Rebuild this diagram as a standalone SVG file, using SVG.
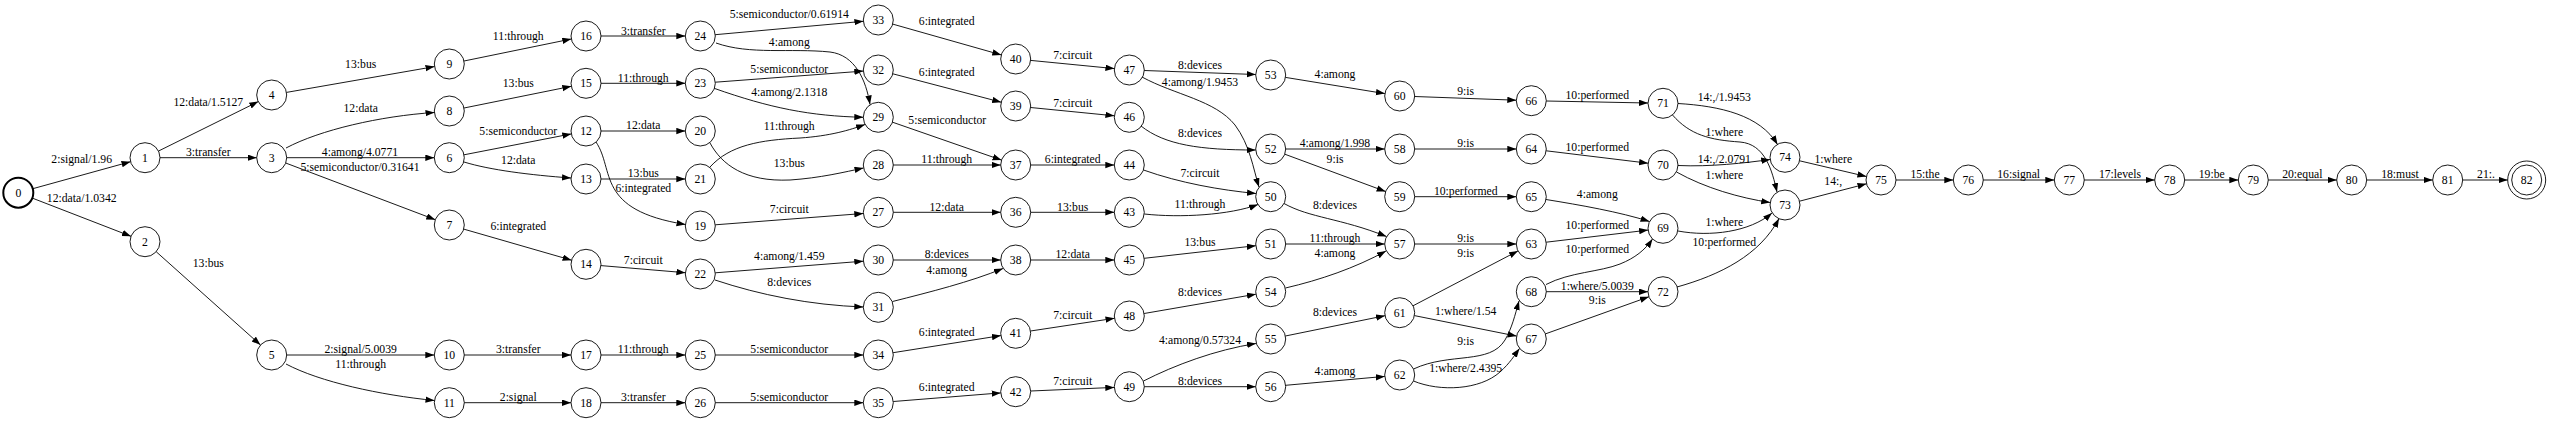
<svg xmlns="http://www.w3.org/2000/svg" width="2550" height="422" viewBox="0 0 2550 422">
<style>
text{font-family:"Liberation Serif","Times New Roman",serif;font-size:11.7px;text-anchor:middle;fill:#000}
.n circle{fill:none;stroke:#000;stroke-width:0.9}
.e path{fill:none;stroke:#000;stroke-width:0.9;marker-end:url(#a)}
</style>
<defs>
<marker id="a" markerWidth="10" markerHeight="8" refX="9" refY="3.2" orient="auto" markerUnits="userSpaceOnUse"><path d="M0,0L9,3.2L0,6.4z" fill="#000"/></marker>
</defs>
<rect width="2550" height="422" fill="#fff"/>
<g id="connectors">
<g class="e"><path d="M32.8,188.7L130.5,161.7"/><text x="81.7" y="163.3">2:signal/1.96</text></g>
<g class="e"><path d="M32.3,198.1L131,236.3"/><text x="81.7" y="202.3">12:data/1.0342</text></g>
<g class="e"><path d="M158.4,151.1L258.3,101.6"/><text x="208.3" y="105.7">12:data/1.5127</text></g>
<g class="e"><path d="M160,157.7L256.7,157.7"/><text x="208.3" y="156.3">3:transfer</text></g>
<g class="e"><path d="M156.2,251.7L260.5,345"/><text x="208.3" y="267.3">13:bus</text></g>
<g class="e"><path d="M286.5,92.4L434.5,66.6"/><text x="360.7" y="68">13:bus</text></g>
<g class="e"><path d="M286,148C320,130 380,116 434.5,112.5"/><text x="360.7" y="112.3">12:data</text></g>
<g class="e"><path d="M286.7,157.7L434.3,157.7"/><text x="360" y="156.3">4:among/4.0771</text></g>
<g class="e"><path d="M285.7,163L435.3,219.7"/><text x="360" y="171.3">5:semiconductor/0.31641</text></g>
<g class="e"><path d="M286.7,355L434.3,355"/><text x="360.7" y="353">2:signal/5.0039</text></g>
<g class="e"><path d="M286,364C320,382 380,395 434.5,400.5"/><text x="360.7" y="368">11:through</text></g>
<g class="e"><path d="M464,61L571.3,39"/><text x="518.3" y="40">11:through</text></g>
<g class="e"><path d="M464,108L571.3,86.3"/><text x="518.3" y="87.3">13:bus</text></g>
<g class="e"><path d="M464,154.8L571.3,133.9"/><text x="518.3" y="135">5:semiconductor</text></g>
<g class="e"><path d="M464,162C490,170 530,175 571,178"/><text x="518.3" y="164">12:data</text></g>
<g class="e"><path d="M463.7,229.1L571.6,260.2"/><text x="518.3" y="230">6:integrated</text></g>
<g class="e"><path d="M464.3,355L571,355"/><text x="518.3" y="353">3:transfer</text></g>
<g class="e"><path d="M464.3,402.7L571,402.7"/><text x="518.3" y="400.7">2:signal</text></g>
<g class="e"><path d="M601,36L685.3,36"/><text x="643.3" y="35">3:transfer</text></g>
<g class="e"><path d="M601,83.3L685.3,83.3"/><text x="643.3" y="82.3">11:through</text></g>
<g class="e"><path d="M601,131L685.3,131"/><text x="643.3" y="129">12:data</text></g>
<g class="e"><path d="M601,179L685.3,179"/><text x="643.3" y="176.7">13:bus</text></g>
<g class="e"><path d="M596,142C615,170 595,210 685.5,224.5"/><text x="643.3" y="192.3">6:integrated</text></g>
<g class="e"><path d="M601,265.6L685.4,272.7"/><text x="643.3" y="264">7:circuit</text></g>
<g class="e"><path d="M601,355L685.3,355"/><text x="643.3" y="353">11:through</text></g>
<g class="e"><path d="M601,402.7L685.3,402.7"/><text x="643.3" y="400.7">3:transfer</text></g>
<g class="e"><path d="M715.2,34.7L863.4,21.3"/><text x="789.3" y="18">5:semiconductor/0.61914</text></g>
<g class="e"><path d="M716,43C750,55 790,48 830,52C855,55 866,80 870,104.5"/><text x="789.3" y="45.7">4:among</text></g>
<g class="e"><path d="M715.3,82.2L863.3,71.1"/><text x="789.3" y="73.3">5:semiconductor</text></g>
<g class="e"><path d="M714.4,88.4C770,108 810,116 863.3,117.3"/><text x="789.3" y="95.7">4:among/2.1318</text></g>
<g class="e"><path d="M710,167C730,145 760,140 800,138C830,136 850,130 865,124.5"/><text x="789.3" y="129.7">11:through</text></g>
<g class="e"><path d="M710,143C722,165 745,182 790,180C820,178 845,172 863.5,168"/><text x="789.3" y="167.3">13:bus</text></g>
<g class="e"><path d="M715.3,224.8L863.3,213.5"/><text x="789.3" y="213.3">7:circuit</text></g>
<g class="e"><path d="M715.3,272.8L863.3,261.2"/><text x="789.3" y="260">4:among/1.459</text></g>
<g class="e"><path d="M715,280C760,295 810,305 863.3,307"/><text x="789.3" y="285.7">8:devices</text></g>
<g class="e"><path d="M715.3,355L863.3,355"/><text x="789.3" y="353">5:semiconductor</text></g>
<g class="e"><path d="M715.3,402.7L863.3,402.7"/><text x="789.3" y="400.7">5:semiconductor</text></g>
<g class="e"><path d="M892.7,24.1L1001.3,54.9"/><text x="946.7" y="25">6:integrated</text></g>
<g class="e"><path d="M892.8,73.8L1001.2,102.2"/><text x="946.7" y="76">6:integrated</text></g>
<g class="e"><path d="M892.5,122.2L1001.5,160.1"/><text x="947.3" y="124">5:semiconductor</text></g>
<g class="e"><path d="M893.3,165L1000.7,165"/><text x="946.7" y="163.3">11:through</text></g>
<g class="e"><path d="M893.3,212.3L1000.7,212.3"/><text x="946.7" y="211.3">12:data</text></g>
<g class="e"><path d="M893.3,260L1000.7,260"/><text x="946.7" y="258.3">8:devices</text></g>
<g class="e"><path d="M892.5,301.5C930,292 970,282 1003,268.5"/><text x="946.7" y="274">4:among</text></g>
<g class="e"><path d="M893.1,352.7L1000.9,335.6"/><text x="946.7" y="336.3">6:integrated</text></g>
<g class="e"><path d="M893.3,401.5L1000.7,392.9"/><text x="946.7" y="391.3">6:integrated</text></g>
<g class="e"><path d="M1030.6,60.4L1114.4,68.6"/><text x="1072.7" y="59">7:circuit</text></g>
<g class="e"><path d="M1030.6,107.5L1114.4,115.8"/><text x="1072.7" y="107.3">7:circuit</text></g>
<g class="e"><path d="M1030.7,165L1114.3,165"/><text x="1072.7" y="163.3">6:integrated</text></g>
<g class="e"><path d="M1030.7,212.3L1114.3,212.3"/><text x="1072.7" y="211.3">13:bus</text></g>
<g class="e"><path d="M1030.7,260L1114.3,260"/><text x="1072.7" y="258.3">12:data</text></g>
<g class="e"><path d="M1030.5,331L1114.5,318.3"/><text x="1072.7" y="319">7:circuit</text></g>
<g class="e"><path d="M1030.7,391L1114.3,387.4"/><text x="1072.7" y="385">7:circuit</text></g>
<g class="e"><path d="M1144.3,70.5L1255.7,74.5"/><text x="1200" y="69">8:devices</text></g>
<g class="e"><path d="M1142,77C1175,95 1215,100 1235,125C1250,145 1253,168 1259,187"/><text x="1200" y="85.7">4:among/1.9453</text></g>
<g class="e"><path d="M1141,126C1165,145 1200,150 1255.7,150"/><text x="1200" y="137.3">8:devices</text></g>
<g class="e"><path d="M1143.5,170C1180,183 1220,190 1256,193.5"/><text x="1200" y="177.3">7:circuit</text></g>
<g class="e"><path d="M1144.3,214C1180,218 1230,215 1258,204.5"/><text x="1200" y="208">11:through</text></g>
<g class="e"><path d="M1144.2,258.3L1255.8,245.7"/><text x="1200" y="246.3">13:bus</text></g>
<g class="e"><path d="M1144.1,313.5L1255.9,294.2"/><text x="1200" y="295.7">8:devices</text></g>
<g class="e"><path d="M1143.5,381C1175,365 1215,350 1256,343.5"/><text x="1200" y="344">4:among/0.57324</text></g>
<g class="e"><path d="M1144.3,386.7L1255.7,386.7"/><text x="1200" y="385">8:devices</text></g>
<g class="e"><path d="M1285.5,77.4L1384.9,93.6"/><text x="1335" y="78.3">4:among</text></g>
<g class="e"><path d="M1285.7,149L1384.7,149"/><text x="1335" y="147.3">4:among/1.998</text></g>
<g class="e"><path d="M1284.8,154.2L1385.6,191.5"/><text x="1335" y="163.3">9:is</text></g>
<g class="e"><path d="M1284,203.5C1310,218 1340,218 1386.5,236.5"/><text x="1335" y="209">8:devices</text></g>
<g class="e"><path d="M1285.7,244L1384.7,244"/><text x="1335" y="242.3">11:through</text></g>
<g class="e"><path d="M1285.5,288C1320,280 1355,268 1386,251"/><text x="1335" y="257.3">4:among</text></g>
<g class="e"><path d="M1285.4,336L1385,315.7"/><text x="1335" y="316.3">8:devices</text></g>
<g class="e"><path d="M1285.6,385.3L1384.8,376.4"/><text x="1335" y="375">4:among</text></g>
<g class="e"><path d="M1414.7,96.5L1516.3,100.2"/><text x="1465.7" y="94.7">9:is</text></g>
<g class="e"><path d="M1414.7,149L1516.3,149"/><text x="1465.7" y="147.3">9:is</text></g>
<g class="e"><path d="M1414.7,196.7L1516.3,196.7"/><text x="1465.7" y="195">10:performed</text></g>
<g class="e"><path d="M1414.7,244L1516.3,244"/><text x="1465.7" y="242.3">9:is</text></g>
<g class="e"><path d="M1413,305.8L1518,250.9"/><text x="1465.7" y="257.3">9:is</text></g>
<g class="e"><path d="M1414.4,315.6L1516.6,336.1"/><text x="1465.7" y="315">1:where/1.54</text></g>
<g class="e"><path d="M1413.5,369C1450,352 1490,365 1505,340C1512,328 1515,315 1519,301"/><text x="1465.7" y="345">9:is</text></g>
<g class="e"><path d="M1413.5,381C1440,392 1480,390 1500,372C1510,363 1514,356 1519.5,348.5"/><text x="1465.7" y="372.3">1:where/2.4395</text></g>
<g class="e"><path d="M1546.3,101L1648,103"/><text x="1597.3" y="99">10:performed</text></g>
<g class="e"><path d="M1546.2,150.8L1648.1,163.2"/><text x="1597.3" y="150.7">10:performed</text></g>
<g class="e"><path d="M1546,199.5C1580,205 1620,212 1649.5,221.5"/><text x="1597.3" y="198.3">4:among</text></g>
<g class="e"><path d="M1546.2,242.2L1648.1,230.1"/><text x="1597.3" y="229">10:performed</text></g>
<g class="e"><path d="M1546,284.5C1570,272 1600,272 1620,264C1635,258 1645,250 1652.5,239"/><text x="1597.3" y="253">10:performed</text></g>
<g class="e"><path d="M1546.3,291.7L1648,291.7"/><text x="1597.3" y="289.7">1:where/5.0039</text></g>
<g class="e"><path d="M1545.4,333.9L1648.9,296.8"/><text x="1597.3" y="304">9:is</text></g>
<g class="e"><path d="M1678,103.5C1720,106 1760,115 1777.5,144.5"/><text x="1724.3" y="100.7">14:,/1.9453</text></g>
<g class="e"><path d="M1672.5,115C1690,135 1710,140 1740,142C1765,144 1772,170 1777,192"/><text x="1724.3" y="135.7">1:where</text></g>
<g class="e"><path d="M1678,165.5C1710,167 1745,163 1770.2,159.5"/><text x="1724.3" y="163">14:,/2.0791</text></g>
<g class="e"><path d="M1676.5,172C1705,188 1740,198 1770.2,202.5"/><text x="1724.3" y="179.3">1:where</text></g>
<g class="e"><path d="M1678,231C1710,237 1750,232 1772,213"/><text x="1724.3" y="225.7">1:where</text></g>
<g class="e"><path d="M1677,287C1720,275 1760,255 1779,218.5"/><text x="1724.3" y="246.3">10:performed</text></g>
<g class="e"><path d="M1799.6,160.8L1866.4,176.5"/><text x="1833.3" y="163.3">1:where</text></g>
<g class="e"><path d="M1799.5,201.2L1866.5,183.8"/><text x="1833.3" y="185">14:,</text></g>
<g class="e"><path d="M1896,180L1953.3,180"/><text x="1925" y="178">15:the</text></g>
<g class="e"><path d="M1983.3,180L2054.3,180"/><text x="2018.7" y="178">16:signal</text></g>
<g class="e"><path d="M2084.3,180L2154.7,180"/><text x="2120" y="178">17:levels</text></g>
<g class="e"><path d="M2184.7,180L2238.3,180"/><text x="2211.7" y="178">19:be</text></g>
<g class="e"><path d="M2268.3,180L2336.7,180"/><text x="2302.3" y="178">20:equal</text></g>
<g class="e"><path d="M2366.7,180L2432.7,180"/><text x="2400" y="178">18:must</text></g>
<g class="e"><path d="M2462.7,180L2507.7,180"/><text x="2486" y="178">21:.</text></g>
</g>
<g id="nodes">
<g id="n0" class="n"><circle cx="18.3" cy="192.7" r="15" style="stroke-width:2"/><text x="18.3" y="196.7">0</text></g>
<g id="n1" class="n"><circle cx="145" cy="157.7" r="15"/><text x="145" y="161.7">1</text></g>
<g id="n2" class="n"><circle cx="145" cy="241.7" r="15"/><text x="145" y="245.7">2</text></g>
<g id="n3" class="n"><circle cx="271.7" cy="157.7" r="15"/><text x="271.7" y="161.7">3</text></g>
<g id="n4" class="n"><circle cx="271.7" cy="95" r="15"/><text x="271.7" y="99">4</text></g>
<g id="n5" class="n"><circle cx="271.7" cy="355" r="15"/><text x="271.7" y="359">5</text></g>
<g id="n6" class="n"><circle cx="449.3" cy="157.7" r="15"/><text x="449.3" y="161.7">6</text></g>
<g id="n7" class="n"><circle cx="449.3" cy="225" r="15"/><text x="449.3" y="229">7</text></g>
<g id="n8" class="n"><circle cx="449.3" cy="111" r="15"/><text x="449.3" y="115">8</text></g>
<g id="n9" class="n"><circle cx="449.3" cy="64" r="15"/><text x="449.3" y="68">9</text></g>
<g id="n10" class="n"><circle cx="449.3" cy="355" r="15"/><text x="449.3" y="359">10</text></g>
<g id="n11" class="n"><circle cx="449.3" cy="402.7" r="15"/><text x="449.3" y="406.7">11</text></g>
<g id="n12" class="n"><circle cx="586" cy="131" r="15"/><text x="586" y="135">12</text></g>
<g id="n13" class="n"><circle cx="586" cy="179" r="15"/><text x="586" y="183">13</text></g>
<g id="n14" class="n"><circle cx="586" cy="264.3" r="15"/><text x="586" y="268.3">14</text></g>
<g id="n15" class="n"><circle cx="586" cy="83.3" r="15"/><text x="586" y="87.3">15</text></g>
<g id="n16" class="n"><circle cx="586" cy="36" r="15"/><text x="586" y="40">16</text></g>
<g id="n17" class="n"><circle cx="586" cy="355" r="15"/><text x="586" y="359">17</text></g>
<g id="n18" class="n"><circle cx="586" cy="402.7" r="15"/><text x="586" y="406.7">18</text></g>
<g id="n19" class="n"><circle cx="700.3" cy="226" r="15"/><text x="700.3" y="230">19</text></g>
<g id="n20" class="n"><circle cx="700.3" cy="131" r="15"/><text x="700.3" y="135">20</text></g>
<g id="n21" class="n"><circle cx="700.3" cy="179" r="15"/><text x="700.3" y="183">21</text></g>
<g id="n22" class="n"><circle cx="700.3" cy="274" r="15"/><text x="700.3" y="278">22</text></g>
<g id="n23" class="n"><circle cx="700.3" cy="83.3" r="15"/><text x="700.3" y="87.3">23</text></g>
<g id="n24" class="n"><circle cx="700.3" cy="36" r="15"/><text x="700.3" y="40">24</text></g>
<g id="n25" class="n"><circle cx="700.3" cy="355" r="15"/><text x="700.3" y="359">25</text></g>
<g id="n26" class="n"><circle cx="700.3" cy="402.7" r="15"/><text x="700.3" y="406.7">26</text></g>
<g id="n27" class="n"><circle cx="878.3" cy="212.3" r="15"/><text x="878.3" y="216.3">27</text></g>
<g id="n28" class="n"><circle cx="878.3" cy="165" r="15"/><text x="878.3" y="169">28</text></g>
<g id="n29" class="n"><circle cx="878.3" cy="117.3" r="15"/><text x="878.3" y="121.3">29</text></g>
<g id="n30" class="n"><circle cx="878.3" cy="260" r="15"/><text x="878.3" y="264">30</text></g>
<g id="n31" class="n"><circle cx="878.3" cy="307.3" r="15"/><text x="878.3" y="311.3">31</text></g>
<g id="n32" class="n"><circle cx="878.3" cy="70" r="15"/><text x="878.3" y="74">32</text></g>
<g id="n33" class="n"><circle cx="878.3" cy="20" r="15"/><text x="878.3" y="24">33</text></g>
<g id="n34" class="n"><circle cx="878.3" cy="355" r="15"/><text x="878.3" y="359">34</text></g>
<g id="n35" class="n"><circle cx="878.3" cy="402.7" r="15"/><text x="878.3" y="406.7">35</text></g>
<g id="n36" class="n"><circle cx="1015.7" cy="212.3" r="15"/><text x="1015.7" y="216.3">36</text></g>
<g id="n37" class="n"><circle cx="1015.7" cy="165" r="15"/><text x="1015.7" y="169">37</text></g>
<g id="n38" class="n"><circle cx="1015.7" cy="260" r="15"/><text x="1015.7" y="264">38</text></g>
<g id="n39" class="n"><circle cx="1015.7" cy="106" r="15"/><text x="1015.7" y="110">39</text></g>
<g id="n40" class="n"><circle cx="1015.7" cy="59" r="15"/><text x="1015.7" y="63">40</text></g>
<g id="n41" class="n"><circle cx="1015.7" cy="333.3" r="15"/><text x="1015.7" y="337.3">41</text></g>
<g id="n42" class="n"><circle cx="1015.7" cy="391.7" r="15"/><text x="1015.7" y="395.7">42</text></g>
<g id="n43" class="n"><circle cx="1129.3" cy="212.3" r="15"/><text x="1129.3" y="216.3">43</text></g>
<g id="n44" class="n"><circle cx="1129.3" cy="165" r="15"/><text x="1129.3" y="169">44</text></g>
<g id="n45" class="n"><circle cx="1129.3" cy="260" r="15"/><text x="1129.3" y="264">45</text></g>
<g id="n46" class="n"><circle cx="1129.3" cy="117.3" r="15"/><text x="1129.3" y="121.3">46</text></g>
<g id="n47" class="n"><circle cx="1129.3" cy="70" r="15"/><text x="1129.3" y="74">47</text></g>
<g id="n48" class="n"><circle cx="1129.3" cy="316" r="15"/><text x="1129.3" y="320">48</text></g>
<g id="n49" class="n"><circle cx="1129.3" cy="386.7" r="15"/><text x="1129.3" y="390.7">49</text></g>
<g id="n50" class="n"><circle cx="1270.7" cy="196.7" r="15"/><text x="1270.7" y="200.7">50</text></g>
<g id="n51" class="n"><circle cx="1270.7" cy="244" r="15"/><text x="1270.7" y="248">51</text></g>
<g id="n52" class="n"><circle cx="1270.7" cy="149" r="15"/><text x="1270.7" y="153">52</text></g>
<g id="n53" class="n"><circle cx="1270.7" cy="75" r="15"/><text x="1270.7" y="79">53</text></g>
<g id="n54" class="n"><circle cx="1270.7" cy="291.7" r="15"/><text x="1270.7" y="295.7">54</text></g>
<g id="n55" class="n"><circle cx="1270.7" cy="339" r="15"/><text x="1270.7" y="343">55</text></g>
<g id="n56" class="n"><circle cx="1270.7" cy="386.7" r="15"/><text x="1270.7" y="390.7">56</text></g>
<g id="n57" class="n"><circle cx="1399.7" cy="244" r="15"/><text x="1399.7" y="248">57</text></g>
<g id="n58" class="n"><circle cx="1399.7" cy="149" r="15"/><text x="1399.7" y="153">58</text></g>
<g id="n59" class="n"><circle cx="1399.7" cy="196.7" r="15"/><text x="1399.7" y="200.7">59</text></g>
<g id="n60" class="n"><circle cx="1399.7" cy="96" r="15"/><text x="1399.7" y="100">60</text></g>
<g id="n61" class="n"><circle cx="1399.7" cy="312.7" r="15"/><text x="1399.7" y="316.7">61</text></g>
<g id="n62" class="n"><circle cx="1399.7" cy="375" r="15"/><text x="1399.7" y="379">62</text></g>
<g id="n63" class="n"><circle cx="1531.3" cy="244" r="15"/><text x="1531.3" y="248">63</text></g>
<g id="n64" class="n"><circle cx="1531.3" cy="149" r="15"/><text x="1531.3" y="153">64</text></g>
<g id="n65" class="n"><circle cx="1531.3" cy="196.7" r="15"/><text x="1531.3" y="200.7">65</text></g>
<g id="n66" class="n"><circle cx="1531.3" cy="100.7" r="15"/><text x="1531.3" y="104.7">66</text></g>
<g id="n67" class="n"><circle cx="1531.3" cy="339" r="15"/><text x="1531.3" y="343">67</text></g>
<g id="n68" class="n"><circle cx="1531.3" cy="291.7" r="15"/><text x="1531.3" y="295.7">68</text></g>
<g id="n69" class="n"><circle cx="1663" cy="228.3" r="15"/><text x="1663" y="232.3">69</text></g>
<g id="n70" class="n"><circle cx="1663" cy="165" r="15"/><text x="1663" y="169">70</text></g>
<g id="n71" class="n"><circle cx="1663" cy="103.3" r="15"/><text x="1663" y="107.3">71</text></g>
<g id="n72" class="n"><circle cx="1663" cy="291.7" r="15"/><text x="1663" y="295.7">72</text></g>
<g id="n73" class="n"><circle cx="1785" cy="205" r="15"/><text x="1785" y="209">73</text></g>
<g id="n74" class="n"><circle cx="1785" cy="157.3" r="15"/><text x="1785" y="161.3">74</text></g>
<g id="n75" class="n"><circle cx="1881" cy="180" r="15"/><text x="1881" y="184">75</text></g>
<g id="n76" class="n"><circle cx="1968.3" cy="180" r="15"/><text x="1968.3" y="184">76</text></g>
<g id="n77" class="n"><circle cx="2069.3" cy="180" r="15"/><text x="2069.3" y="184">77</text></g>
<g id="n78" class="n"><circle cx="2169.7" cy="180" r="15"/><text x="2169.7" y="184">78</text></g>
<g id="n79" class="n"><circle cx="2253.3" cy="180" r="15"/><text x="2253.3" y="184">79</text></g>
<g id="n80" class="n"><circle cx="2351.7" cy="180" r="15"/><text x="2351.7" y="184">80</text></g>
<g id="n81" class="n"><circle cx="2447.7" cy="180" r="15"/><text x="2447.7" y="184">81</text></g>
<g id="n82" class="n"><circle cx="2526.7" cy="180" r="19"/><circle cx="2526.7" cy="180" r="15"/><text x="2526.7" y="184">82</text></g>
</g>
</svg>
